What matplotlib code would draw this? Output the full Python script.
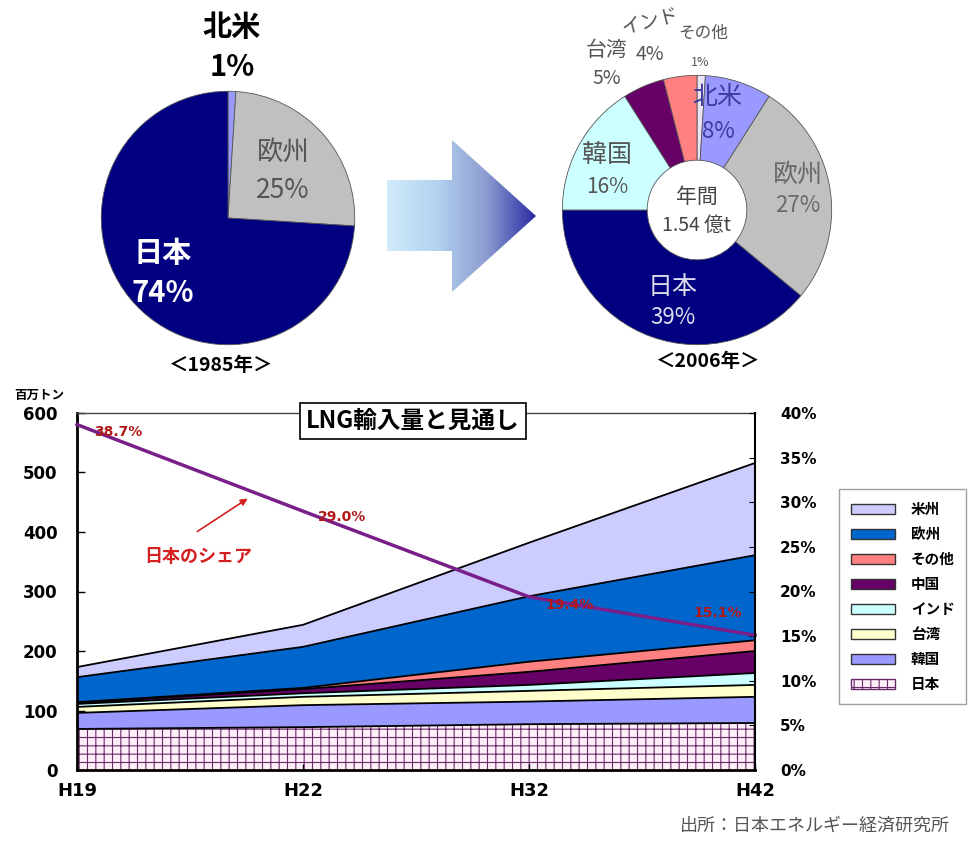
import matplotlib.pyplot as plt
import numpy as np
from matplotlib.colors import LinearSegmentedColormap
from matplotlib.patches import Polygon, Patch

plt.rcParams['font.family'] = ['Noto Sans CJK JP', 'DejaVu Sans']
plt.rcParams['hatch.linewidth'] = 0.8

# ---- data ----
pie1985_labels = ['北米', '欧州', '日本']
pie1985_values = [1, 25, 74]
pie2006_labels = ['その他', '北米', '欧州', '日本', '韓国', '台湾', 'インド']
pie2006_values = [1, 8, 27, 39, 16, 5, 4]

years = ['H19', 'H22', 'H32', 'H42']
regions = ['日本', '韓国', '台湾', 'インド', '中国', 'その他', '欧州', '米州']
japan = [69, 72, 77, 79]
korea = [27, 37, 38, 44]
taiwan = [10, 14, 18, 20]
india = [5, 6, 10, 20]
china = [2, 7, 22, 37]
other = [1, 2, 17, 18]
europe = [42, 69, 110, 143]
america = [17, 37, 90, 155]
japan_share = [38.7, 29.0, 19.4, 15.1]

W, H = 969, 843


def fx(x):
    return x / W


def fy(y):
    return 1 - y / H


fig = plt.figure(figsize=(W / 100, H / 100), dpi=100)


def ptext(x, y, s, **kw):
    kw.setdefault('ha', 'center')
    kw.setdefault('va', 'center')
    return fig.text(fx(x), fy(y), s, **kw)


def pie_axes(cx, cy, r):
    a = fig.add_axes([fx(cx - r), fy(cy + r), 2 * r / W, 2 * r / H])
    return a


# ---- 1985 pie ----
ax1 = pie_axes(228, 218, 128)
ax1.pie(pie1985_values, colors=['#9999ff', '#c0c0c0', '#000080'], startangle=90,
        counterclock=False, radius=1, wedgeprops=dict(edgecolor='#555555', linewidth=0.6))
ax1.set_xlim(-1.01, 1.01)
ax1.set_ylim(-1.01, 1.01)

pos85 = {'北米': ((232, 27), (232, 67)), '欧州': ((283, 152), (283, 190)),
         '日本': ((163, 253), (163, 293))}
sty85 = {'北米': dict(color='black', fontweight='bold', fontsize=21),
         '欧州': dict(color='#555555', fontsize=19),
         '日本': dict(color='white', fontweight='bold', fontsize=21)}
for lab, v in zip(pie1985_labels, pie1985_values):
    (x1, y1), (x2, y2) = pos85[lab]
    ptext(x1, y1, lab, **sty85[lab])
    ptext(x2, y2, f'{v}%', **sty85[lab])
ptext(220, 366, '＜1985年＞', fontsize=14, fontweight='bold')

# ---- arrow ----
axa = fig.add_axes([fx(380), fy(298), 165 / W, 163 / H])
axa.set_xlim(380, 545)
axa.set_ylim(298, 135)
axa.axis('off')
cmap = LinearSegmentedColormap.from_list('arr', ['#d2ecfc', '#b4d2f0', '#8c9cd0', '#2626a0'])
grad = np.linspace(0, 1, 256).reshape(1, -1)
im = axa.imshow(grad, cmap=cmap, extent=[385, 537, 298, 135], aspect='auto')
arrow = Polygon([(387, 180), (452, 180), (452, 140), (536, 216), (452, 292), (452, 251), (387, 251)],
                closed=True, facecolor='none', edgecolor='none')
axa.add_patch(arrow)
im.set_clip_path(arrow)

# ---- 2006 donut ----
ax2p = pie_axes(697, 210, 136)
ax2p.pie(pie2006_values, colors=['#ece4f4', '#9999ff', '#c0c0c0', '#000080', '#ccffff', '#660066', '#ff8080'],
         startangle=90, counterclock=False, radius=1,
         wedgeprops=dict(width=0.63, edgecolor='#555555', linewidth=0.6))
ax2p.set_xlim(-1.01, 1.01)
ax2p.set_ylim(-1.01, 1.01)

pos06 = {'その他': ((703, 33), (700, 62), 0, 12, 9), '北米': ((717, 97), (718, 132), 0, 18, 16),
         '欧州': ((798, 175), (798, 205), 0, 18, 16), '日本': ((673, 287), (673, 317), 0, 18, 16),
         '韓国': ((607, 155), (607, 187), 0, 18, 15), '台湾': ((607, 50), (607, 79), 0, 15, 14),
         'インド': ((650, 22), (650, 55), 14, 14, 14)}
col06 = {'その他': '#555555', '北米': '#3c3c9c', '欧州': '#6a6a6a', '日本': '#dcdcec',
         '韓国': '#555555', '台湾': '#555555', 'インド': '#555555'}
for lab, v in zip(pie2006_labels, pie2006_values):
    (x1, y1), (x2, y2), rot, fs1, fs2 = pos06[lab]
    ptext(x1, y1, lab, fontsize=fs1, color=col06[lab], rotation=rot)
    ptext(x2, y2, f'{v}%', fontsize=fs2, color=col06[lab])
ptext(697, 197, '年間', fontsize=15, color='#444444')
ptext(697, 225, '1.54 億t', fontsize=14, color='#444444')
ptext(707, 362, '＜2006年＞', fontsize=14, fontweight='bold')

# ---- stacked area chart ----
ax = fig.add_axes([fx(77), fy(770), (755 - 77) / W, (770 - 413) / H])
x = np.arange(len(years))
layers = [japan, korea, taiwan, india, china, other, europe, america]
colors = ['#fdeef8', '#9999ff', '#ffffcc', '#ccffff', '#660066', '#ff8080', '#0066cc', '#ccccff']
base = np.zeros(len(years))
for vals, c, name in zip(layers, colors, regions):
    top = base + np.array(vals)
    if name == '日本':
        ax.fill_between(x, base, top, facecolor=c, edgecolor='#6a2a6a', hatch='++', linewidth=0)
    else:
        ax.fill_between(x, base, top, facecolor=c, linewidth=0)
    ax.plot(x, top, color='black', lw=1.3)
    base = top

ax.set_xlim(0, 3)
ax.set_ylim(0, 600)
ax.set_xticks(x, years)
ax.set_yticks(range(0, 601, 100))
ax.tick_params(axis='y', direction='in', length=6, pad=14, width=1)
ax.tick_params(axis='x', direction='in', length=4, pad=9, width=1)
for t in ax.get_yticklabels():
    t.set_fontfamily('DejaVu Sans')
    t.set_fontweight('bold')
    t.set_fontsize(12)
for t in ax.get_xticklabels():
    t.set_fontfamily('DejaVu Sans')
    t.set_fontweight('bold')
    t.set_fontsize(13)
ax.spines['left'].set_linewidth(2)
ax.spines['bottom'].set_linewidth(2)
ax.spines['top'].set_linewidth(1)
ax.spines['top'].set_color('#444444')
ax.spines['right'].set_visible(False)

axr = ax.twinx()
axr.set_ylim(0, 40)
axr.set_yticks(range(0, 41, 5), [f'{v}%' for v in range(0, 41, 5)])
axr.tick_params(axis='y', direction='in', length=4, pad=18)
for t in axr.get_yticklabels():
    t.set_fontfamily('DejaVu Sans')
    t.set_fontweight('bold')
    t.set_fontsize(11)
for s in ['left', 'top', 'bottom']:
    axr.spines[s].set_visible(False)
axr.spines['right'].set_linewidth(1.5)
axr.plot(x, japan_share, color='#7a1f8a', lw=2.5, clip_on=False)
offsets = [(41, -7), (39, -6), (41, -8), (-37, 22)]
for xi, v, off in zip(x, japan_share, offsets):
    axr.annotate(f'{v:.1f}%', (xi, v), xytext=off, textcoords='offset pixels',
                 ha='center', va='center', fontsize=10, fontweight='bold',
                 color='#b01818', fontfamily='DejaVu Sans')

ptext(39, 395, '百万トン', fontsize=9, fontweight='bold')
ptext(413, 421, 'LNG輸入量と見通し', fontsize=17, fontweight='bold', zorder=10,
      bbox=dict(boxstyle='square,pad=0.25', facecolor='white', edgecolor='black', linewidth=1.2))
ptext(198, 556, '日本のシェア', fontsize=13, fontweight='bold', color='#d42020')
ax.annotate('', xy=(fx(250), fy(497)), xytext=(fx(195), fy(533)),
            xycoords='figure fraction', textcoords='figure fraction',
            arrowprops=dict(arrowstyle='-|>', color='#d42020', lw=1.2, mutation_scale=10))

# legend (top to bottom reverse of stack)
handles = []
for name, c in zip(regions[::-1], colors[::-1]):
    if name == '日本':
        handles.append(Patch(facecolor=c, edgecolor='#6a2a6a', hatch='++', linewidth=1, label=name))
    else:
        handles.append(Patch(facecolor=c, edgecolor='#333333', linewidth=1, label=name))
leg = fig.legend(handles=handles, loc='upper left', bbox_to_anchor=(fx(832), fy(482)),
                 fancybox=False, edgecolor='#888888', fontsize=10.5, handlelength=3.0,
                 handleheight=0.7, labelspacing=0.62, handletextpad=1.1, borderpad=0.8)
for t in leg.get_texts():
    t.set_fontweight('bold')

ptext(680, 826, '出所：日本エネルギー経済研究所', fontsize=13, color='#555555', ha='left')

fig.savefig('out.png', dpi=100)
